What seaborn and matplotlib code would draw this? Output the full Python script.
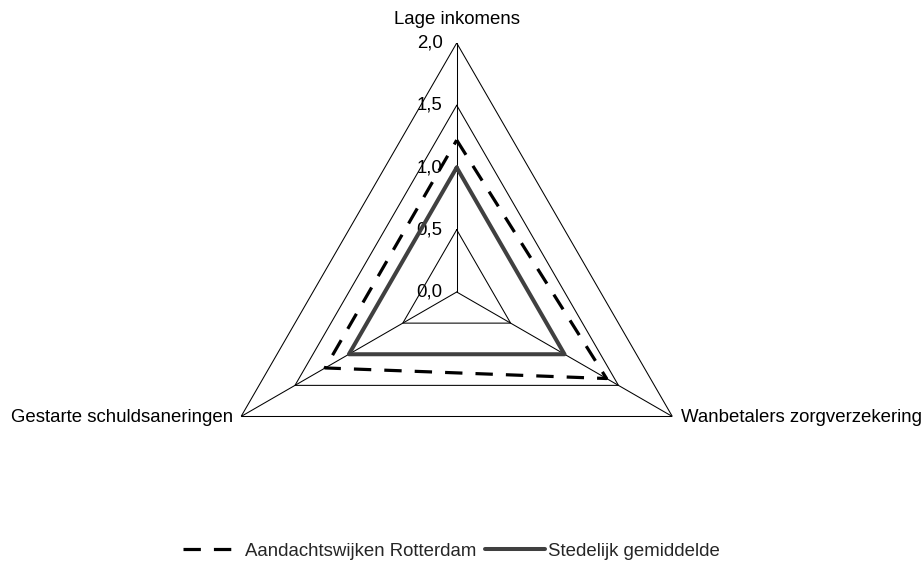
import numpy as np
import pandas as pd
import matplotlib
matplotlib.use("Agg")
import matplotlib.pyplot as plt
import seaborn as sns

# -------------------------------
# Data
# -------------------------------
categories = ["Lage inkomens", "Wanbetalers zorgverzekering", "Gestarte schuldsaneringen"]
aandacht = [1.22, 1.39, 1.22]
stedelijk = [1.0, 1.0, 1.0]
ring_values = [0.5, 1.0, 1.5, 2.0]
tick_values = [0.0, 0.5, 1.0, 1.5, 2.0]
tick_labels = ["0,0", "0,5", "1,0", "1,5", "2,0"]
series_names = ["Aandachtswijken Rotterdam", "Stedelijk gemiddelde"]

# -------------------------------
# Style
# -------------------------------
sns.set_theme(style="white")
plt.rcParams["font.family"] = ["Liberation Sans", "DejaVu Sans"]
plt.rcParams["lines.scale_dashes"] = False
FS = 13.4
DASH = (0, (12.5, 9.4))

fig = plt.figure(figsize=(9.22, 5.63), dpi=100)
ax = fig.add_axes([0.2253, 0.0391, 0.5401, 0.8845], projection="polar")
ax.set_theta_zero_location("N")
ax.set_theta_direction(-1)

n = len(categories)
theta = np.linspace(0, 2 * np.pi, n, endpoint=False)
theta_closed = np.append(theta, theta[0])

# triangular gridlines and spokes
for rv in ring_values:
    ax.plot(theta_closed, [rv] * (n + 1), color="black", lw=0.75, zorder=1)
for t in theta:
    ax.plot([t, t], [0, 2.0], color="black", lw=0.75, zorder=1)

# series
df = pd.DataFrame({
    "theta": np.concatenate([theta_closed, theta_closed]),
    "value": aandacht + [aandacht[0]] + stedelijk + [stedelijk[0]],
    "serie": [series_names[0]] * (n + 1) + [series_names[1]] * (n + 1),
})
sub = df[df["serie"] == series_names[0]]
sns.lineplot(data=sub, x="theta", y="value", sort=False, estimator=None, ax=ax,
             color="black", lw=2.3, linestyle=DASH,
             label=series_names[0], legend=False, zorder=3)
sub = df[df["serie"] == series_names[1]]
sns.lineplot(data=sub, x="theta", y="value", sort=False, estimator=None, ax=ax,
             color="#404040", lw=2.9, label=series_names[1], legend=False, zorder=4)

ax.set_ylim(0, 2.0)
ax.grid(False)
ax.set_xticks([])
ax.set_yticks([])
ax.set_xlabel("")
ax.set_ylabel("")
ax.spines["polar"].set_visible(False)
ax.patch.set_visible(False)

# radial tick labels along the top spoke
for tv, tl in zip(tick_values, tick_labels):
    ax.annotate(tl, xy=(0, tv), xytext=(-14, 0), textcoords="offset pixels",
                ha="right", va="center", fontsize=FS, color="black")

# category labels
ax.annotate(categories[0], xy=(theta[0], 2.0), xytext=(0, 24), textcoords="offset pixels",
            ha="center", va="center", fontsize=FS, color="black")
ax.annotate(categories[1], xy=(theta[1], 2.0), xytext=(9, -1), textcoords="offset pixels",
            ha="left", va="center", fontsize=FS, color="black")
ax.annotate(categories[2], xy=(theta[2], 2.0), xytext=(-8, -1), textcoords="offset pixels",
            ha="right", va="center", fontsize=FS, color="black")

# legend
handles, labels = ax.get_legend_handles_labels()
fig.legend(handles, labels, loc="center", bbox_to_anchor=(451 / 922, 1 - 551 / 563),
           ncol=2, frameon=False, fontsize=FS, handlelength=3.2, handletextpad=0.15,
           columnspacing=0.48, borderpad=0, borderaxespad=0)

fig.savefig("out.png", dpi=100)
plt.close(fig)
